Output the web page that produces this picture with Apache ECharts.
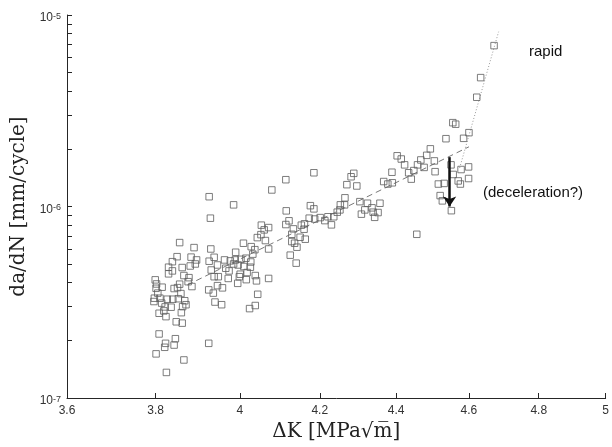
<!DOCTYPE html>
<html>
<head>
<meta charset="utf-8">
<script src="https://cdn.jsdelivr.net/npm/echarts@6/dist/echarts.min.js"></script>
<style>html,body{margin:0;padding:0;background:#fff;}#c{width:612px;height:447px;}</style>
</head>
<body>
<div id="c"></div>
<script>
// ---- data ----
const dK = [
3.926,3.929,3.856,3.890,3.930,3.850,3.839,3.883,3.896,3.926,3.938,3.963,3.830,3.839,3.862,3.881,3.893,3.946,
3.830,3.866,3.878,3.931,3.948,3.966,3.799,3.802,3.876,3.856,3.885,3.938,3.801,3.815,3.843,3.851,3.859,3.925,
3.946,3.958,3.936,3.805,3.797,3.810,3.796,3.827,3.840,3.853,3.868,3.814,3.836,3.822,3.871,3.863,3.940,3.956,
3.808,3.824,3.860,3.848,3.862,3.808,3.846,3.823,3.843,3.925,3.821,3.801,3.866,3.825,3.819,
4.185,4.114,4.079,3.985,4.115,4.176,4.185,4.173,4.187,4.201,4.213,4.122,4.114,4.153,4.161,4.133,4.160,4.053,
4.071,4.060,4.052,4.043,4.129,4.150,4.163,4.063,4.129,4.136,4.142,4.009,4.028,4.037,4.071,3.990,4.032,4.125,
4.140,3.977,3.989,4.003,4.015,4.027,3.985,3.996,4.010,4.026,3.974,4.001,4.018,3.972,3.999,4.016,4.038,4.041,
4.071,3.995,4.044,4.038,4.024,
4.403,4.414,4.423,4.467,4.458,4.448,4.434,4.441,4.389,4.288,4.281,4.270,4.296,4.367,4.378,4.390,4.265,4.253,
4.264,4.304,4.324,4.357,4.317,4.336,4.339,4.352,4.308,4.343,4.252,4.245,4.221,4.236,4.230,4.456,
4.671,4.633,4.622,4.555,4.563,4.536,4.585,4.600,4.493,4.483,4.504,4.476,4.506,4.550,4.578,4.599,4.556,4.570,
4.576,4.599,4.515,4.531,4.520,4.526,4.551
];
const dadN = [
1.125e-6,8.69e-7,6.48e-7,6.10e-7,6.00e-7,5.47e-7,5.15e-7,5.44e-7,5.26e-7,5.18e-7,5.43e-7,5.26e-7,4.82e-7,4.61e-7,4.80e-7,4.89e-7,5.01e-7,4.95e-7,
4.45e-7,4.36e-7,4.25e-7,4.66e-7,4.30e-7,4.76e-7,4.14e-7,3.94e-7,4.05e-7,3.93e-7,3.82e-7,4.30e-7,3.74e-7,3.79e-7,3.73e-7,3.77e-7,3.51e-7,3.67e-7,
3.86e-7,3.76e-7,3.53e-7,3.53e-7,3.32e-7,3.32e-7,3.19e-7,3.28e-7,3.28e-7,3.30e-7,3.22e-7,3.13e-7,2.98e-7,2.99e-7,3.07e-7,3.00e-7,3.17e-7,3.07e-7,
2.77e-7,2.66e-7,2.79e-7,2.50e-7,2.46e-7,2.16e-7,2.04e-7,1.93e-7,1.89e-7,1.93e-7,1.84e-7,1.70e-7,1.58e-7,1.36e-7,2.85e-7,
1.50e-6,1.38e-6,1.22e-6,1.02e-6,9.49e-7,1.01e-6,9.72e-7,8.69e-7,8.60e-7,8.75e-7,8.44e-7,8.42e-7,8.05e-7,7.99e-7,8.12e-7,7.64e-7,7.61e-7,7.99e-7,
7.76e-7,7.55e-7,7.13e-7,6.88e-7,7.16e-7,6.91e-7,6.75e-7,6.64e-7,6.56e-7,6.43e-7,6.13e-7,6.43e-7,6.17e-7,5.95e-7,6.00e-7,5.77e-7,5.64e-7,5.57e-7,
5.06e-7,5.20e-7,5.26e-7,5.30e-7,5.37e-7,5.13e-7,5.01e-7,4.95e-7,4.86e-7,4.82e-7,4.61e-7,4.43e-7,4.52e-7,4.21e-7,4.30e-7,4.15e-7,4.36e-7,4.09e-7,
4.21e-7,3.97e-7,3.48e-7,3.04e-7,2.93e-7,
1.84e-6,1.77e-6,1.65e-6,1.75e-6,1.65e-6,1.54e-6,1.50e-6,1.39e-6,1.51e-6,1.49e-6,1.43e-6,1.30e-6,1.28e-6,1.35e-6,1.31e-6,1.33e-6,1.11e-6,1.02e-6,
1.02e-6,1.06e-6,1.04e-6,1.04e-6,9.60e-7,9.84e-7,9.34e-7,9.30e-7,9.12e-7,8.78e-7,9.60e-7,9.34e-7,8.84e-7,8.84e-7,8.02e-7,7.16e-7,
6.92e-6,4.71e-6,3.72e-6,2.74e-6,2.69e-6,2.26e-6,2.27e-6,2.43e-6,2.00e-6,1.85e-6,1.73e-6,1.60e-6,1.52e-6,1.65e-6,1.56e-6,1.61e-6,1.47e-6,1.36e-6,
1.31e-6,1.40e-6,1.31e-6,1.32e-6,1.14e-6,1.07e-6,9.51e-7
];
// Paris-law fit (dashed) and rapid-growth branch (dotted)
const fitK = [3.874, 4.600];
const fitRate = [3.89e-7, 2.05e-6];
const rapidK = [4.574, 4.684];
const rapidRate = [1.59e-6, 8.18e-6];
// deceleration arrow
const arrowK = [4.546, 4.546];
const arrowRate = [1.81e-6, 1.0e-6];
// axes
const xTicks = [3.6, 3.8, 4, 4.2, 4.4, 4.6, 4.8, 5];
const yDecades = [-7, -6, -5];
const yMinorMult = [1, 2, 3, 4, 5, 6, 7, 8, 9];

// ---- build ----
const L = Math.log10;
const pts = dK.map((k, i) => [L(k), L(dadN[i])]);
const fitPts = fitK.map((k, i) => [L(k), L(fitRate[i])]);
const rapidPts = rapidK.map((k, i) => [L(k), L(rapidRate[i])]);
const xTickVals = xTicks.map(L);
const yTickVals = [];
yDecades.forEach(d => {
  if (d === yDecades[yDecades.length - 1]) { yTickVals.push(d); return; }
  yMinorMult.forEach(m => yTickVals.push(d + L(m)));
});
const xMin = L(xTicks[0]), xMax = L(xTicks[xTicks.length - 1]);
const yMin = yDecades[0], yMax = yDecades[yDecades.length - 1];

const axisColor = '#262626';
const labelColor = '#333333';
const sans = 'Liberation Sans, Arial, sans-serif';
const serif = 'DejaVu Serif, serif';
const TICK = 5;

const chart = echarts.init(document.getElementById('c'));
chart.setOption({
  animation: false,
  backgroundColor: '#ffffff',
  grid: {left: 67, right: 2, top: 15, bottom: 49},
  xAxis: {
    type: 'value',
    min: xMin,
    max: xMax,
    name: 'ΔK [MPa√m\u0305]',
    nameLocation: 'middle',
    nameGap: 22,
    nameTextStyle: {fontFamily: serif, fontSize: 20, color: '#222'},
    axisLine: {show: true, lineStyle: {color: axisColor, width: 1}},
    axisTick: {show: true, inside: true, length: TICK, customValues: xTickVals, lineStyle: {color: axisColor, width: 1}},
    axisLabel: {
      show: true, margin: 7, customValues: xTickVals,
      fontFamily: sans, fontSize: 12, color: labelColor,
      formatter: v => String(Math.round(Math.pow(10, v) * 10) / 10)
    },
    splitLine: {show: false}
  },
  yAxis: {
    type: 'value',
    min: yMin,
    max: yMax,
    name: 'da/dN [mm/cycle]',
    nameLocation: 'middle',
    nameGap: 32,
    nameTextStyle: {fontFamily: serif, fontSize: 20, color: '#222'},
    axisLine: {show: true, lineStyle: {color: axisColor, width: 1}},
    axisTick: {show: true, inside: true, length: TICK, customValues: yTickVals, lineStyle: {color: axisColor, width: 1}},
    axisLabel: {
      show: true, margin: 6, customValues: yDecades,
      padding: [6, 0, 0, 0],
      formatter: v => '{b|10}{s|' + Math.round(v) + '}',
      rich: {
        b: {fontFamily: sans, fontSize: 12, color: labelColor, lineHeight: 12, padding: [3, 0, 0, 0], verticalAlign: 'bottom'},
        s: {fontFamily: sans, fontSize: 9, color: labelColor, lineHeight: 9, verticalAlign: 'top'}
      }
    },
    splitLine: {show: false}
  },
  series: [
    {
      type: 'scatter',
      data: pts,
      symbol: 'rect',
      symbolSize: 6.5,
      itemStyle: {color: 'rgba(0,0,0,0)', borderColor: '#5c5c5c', borderWidth: 1},
      z: 3
    },
    {
      type: 'line',
      data: fitPts,
      symbol: 'none',
      lineStyle: {color: '#555', width: 0.8, type: [6, 4]},
      z: 2,
      markLine: {
        silent: true,
        symbol: ['none', 'arrow'],
        symbolSize: 10,
        label: {show: false},
        lineStyle: {color: '#111', width: 2.5, type: 'solid'},
        data: [[{coord: [L(arrowK[0]), L(arrowRate[0])]}, {coord: [L(arrowK[1]), L(arrowRate[1])]}]]
      }
    },
    {
      type: 'line',
      data: rapidPts,
      symbol: 'none',
      lineStyle: {color: '#9a9a9a', width: 1, type: [1, 2]},
      z: 2
    }
  ],
  graphic: [
    {type: 'text', left: 529, top: 44, style: {text: 'rapid', fontFamily: sans, fontSize: 15, fill: '#111'}},
    {type: 'text', left: 483, top: 185, style: {text: '(deceleration?)', fontFamily: sans, fontSize: 15, fill: '#111'}}
  ]
});
</script>
</body>
</html>
